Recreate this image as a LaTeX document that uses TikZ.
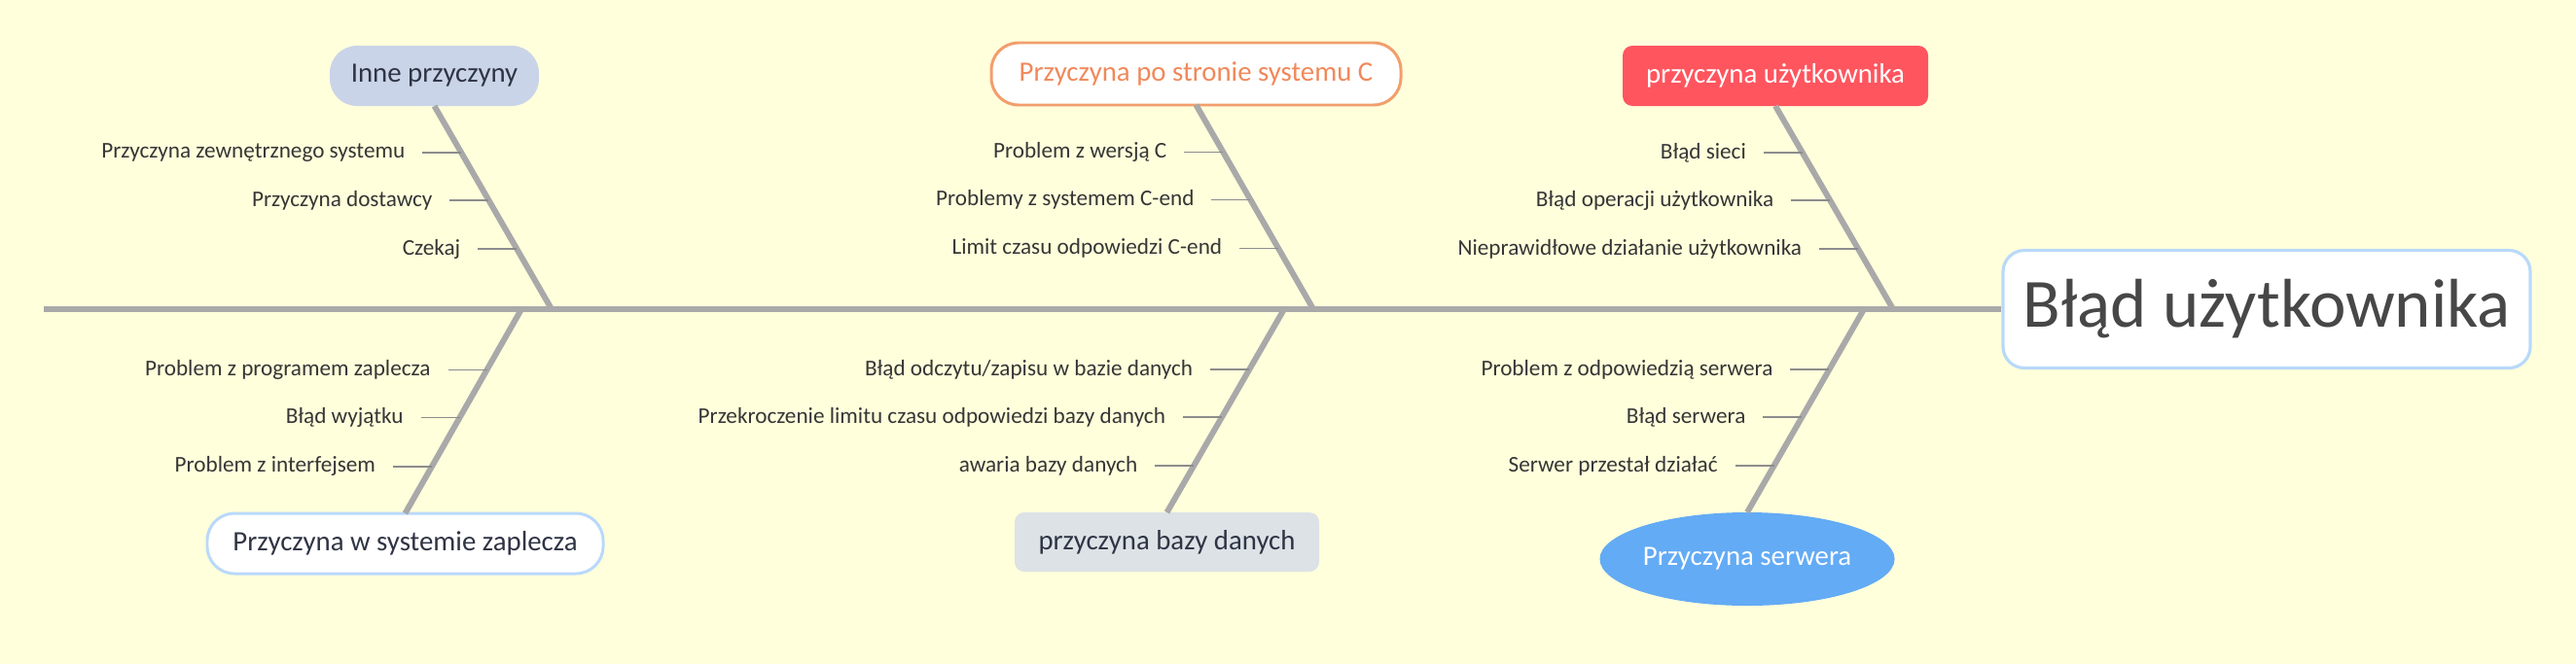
\documentclass[tikz,border=0pt]{standalone}
\usepackage{fontspec}
\setmainfont{Carlito}
\usetikzlibrary{positioning,calc,shapes.geometric}
\definecolor{bgyellow}{HTML}{FFFFDC}
\definecolor{bonegray}{HTML}{A9A9A9}
\definecolor{tickgray}{HTML}{8C8C8C}
\definecolor{labelgray}{HTML}{363636}
\definecolor{darktext}{HTML}{2F3444}
\definecolor{paleblue}{HTML}{B9D9FA}
\definecolor{innefill}{HTML}{C9D4E8}
\definecolor{corange}{HTML}{F29E6C}
\definecolor{ctext}{HTML}{F0895A}
\definecolor{userred}{HTML}{FF555E}
\definecolor{dbgray}{HTML}{DCE2E6}
\definecolor{serverblue}{HTML}{63ABF5}
\tikzset{
  bone/.style={line width=1.7pt,draw=bonegray},
  tick/.style={line width=0.45pt,draw=tickgray},
  lbl/.style={anchor=east,inner sep=0pt,outer xsep=0.18cm,outer ysep=0pt,
    text=labelgray,font=\fontsize{6.6}{7.5}\selectfont},
  cause/.style={inner sep=0pt,outer sep=0pt,font=\fontsize{8.2}{9}\selectfont},
  pill/.style={cause,rectangle,rounded corners=0.28cm},
  tab/.style={cause,rectangle,rounded corners=0.1cm}
}
\begin{document}
\begin{tikzpicture}
  \useasboundingbox (0,0) rectangle (26.48,6.83);
  \fill[bgyellow] (0,0) rectangle (26.48,6.83);

  % head of the fish
  \node[rectangle,rounded corners=0.22cm,draw=paleblue,line width=0.9pt,fill=white,
    minimum width=5.42cm,minimum height=1.21cm,inner sep=0pt,text=black!72,
    font=\fontsize{20.2}{24}\selectfont] (effect) at (23.30,3.65) {Błąd użytkownika};
  \coordinate (tail) at (0.45,3.65);
  \draw[bone] (tail) -- (effect.west);

  % causes above the spine
  \node[pill,fill=innefill,text=darktext,minimum width=2.15cm,minimum height=0.62cm]
    (inne) at (4.465,6.05) {Inne przyczyny};
  \node[pill,fill=white,draw=corange,line width=0.85pt,text=ctext,
    minimum width=4.21cm,minimum height=0.64cm] (sysc) at (12.295,6.07) {Przyczyna po stronie systemu C};
  \node[tab,fill=userred,text=white,minimum width=3.14cm,minimum height=0.62cm]
    (user) at (18.25,6.05) {przyczyna użytkownika};

  % causes below the spine
  \node[pill,fill=white,draw=paleblue,line width=0.85pt,text=darktext,
    minimum width=4.07cm,minimum height=0.62cm] (backend) at (4.165,1.24) {Przyczyna w systemie zaplecza};
  \node[tab,fill=dbgray,text=darktext,minimum width=3.13cm,minimum height=0.61cm]
    (db) at (11.995,1.255) {przyczyna bazy danych};
  \node[cause,ellipse,fill=serverblue,text=white,minimum width=2.90cm,minimum height=0.96cm]
    (server) at (17.96,1.08) {Przyczyna serwera};

  % where the bones meet the spine
  \coordinate (sa) at (5.67,3.65);
  \coordinate (sb) at (13.50,3.65);
  \coordinate (sc) at (19.46,3.65);
  \coordinate (sd) at (5.36,3.65);
  \coordinate (se) at (13.20,3.65);
  \coordinate (sf) at (19.16,3.65);

  \draw[bone] (inne.south) -- (sa);
  \draw[bone] (sysc.south) -- (sb);
  \draw[bone] (user.south) -- (sc);
  \draw[bone] (backend.north) -- (sd);
  \draw[bone] (db.north) -- (se);
  \draw[bone] (server.north) -- (sf);

  % Inne przyczyny
  \coordinate (a1) at ($(inne.south)!0.23!(sa)$);
  \coordinate (a2) at ($(inne.south)!0.464!(sa)$);
  \coordinate (a3) at ($(inne.south)!0.703!(sa)$);
  \node[lbl] (a1l) at ([xshift=-0.4cm]a1) {Przyczyna zewnętrznego systemu};
  \node[lbl] (a2l) at ([xshift=-0.4cm]a2) {Przyczyna dostawcy};
  \node[lbl] (a3l) at ([xshift=-0.4cm]a3) {Czekaj};
  \draw[tick] (a1) -- (a1l);
  \draw[tick] (a2) -- (a2l);
  \draw[tick] (a3) -- (a3l);

  % system C
  \coordinate (b1) at ($(sysc.south)!0.23!(sb)$);
  \coordinate (b2) at ($(sysc.south)!0.464!(sb)$);
  \coordinate (b3) at ($(sysc.south)!0.703!(sb)$);
  \node[lbl] (b1l) at ([xshift=-0.4cm]b1) {Problem z wersją C};
  \node[lbl] (b2l) at ([xshift=-0.4cm]b2) {Problemy z systemem C-end};
  \node[lbl] (b3l) at ([xshift=-0.4cm]b3) {Limit czasu odpowiedzi C-end};
  \draw[tick] (b1) -- (b1l);
  \draw[tick] (b2) -- (b2l);
  \draw[tick] (b3) -- (b3l);

  % user
  \coordinate (c1) at ($(user.south)!0.23!(sc)$);
  \coordinate (c2) at ($(user.south)!0.464!(sc)$);
  \coordinate (c3) at ($(user.south)!0.703!(sc)$);
  \node[lbl] (c1l) at ([xshift=-0.4cm]c1) {Błąd sieci};
  \node[lbl] (c2l) at ([xshift=-0.4cm]c2) {Błąd operacji użytkownika};
  \node[lbl] (c3l) at ([xshift=-0.4cm]c3) {Nieprawidłowe działanie użytkownika};
  \draw[tick] (c1) -- (c1l);
  \draw[tick] (c2) -- (c2l);
  \draw[tick] (c3) -- (c3l);

  % backend
  \coordinate (d1) at ($(sd)!0.297!(backend.north)$);
  \coordinate (d2) at ($(sd)!0.531!(backend.north)$);
  \coordinate (d3) at ($(sd)!0.770!(backend.north)$);
  \node[lbl] (d1l) at ([xshift=-0.4cm]d1) {Problem z programem zaplecza};
  \node[lbl] (d2l) at ([xshift=-0.4cm]d2) {Błąd wyjątku};
  \node[lbl] (d3l) at ([xshift=-0.4cm]d3) {Problem z interfejsem};
  \draw[tick] (d1) -- (d1l);
  \draw[tick] (d2) -- (d2l);
  \draw[tick] (d3) -- (d3l);

  % database
  \coordinate (e1) at ($(se)!0.297!(db.north)$);
  \coordinate (e2) at ($(se)!0.531!(db.north)$);
  \coordinate (e3) at ($(se)!0.770!(db.north)$);
  \node[lbl] (e1l) at ([xshift=-0.4cm]e1) {Błąd odczytu/zapisu w bazie danych};
  \node[lbl] (e2l) at ([xshift=-0.4cm]e2) {Przekroczenie limitu czasu odpowiedzi bazy danych};
  \node[lbl] (e3l) at ([xshift=-0.4cm]e3) {awaria bazy danych};
  \draw[tick] (e1) -- (e1l);
  \draw[tick] (e2) -- (e2l);
  \draw[tick] (e3) -- (e3l);

  % server
  \coordinate (f1) at ($(sf)!0.297!(server.north)$);
  \coordinate (f2) at ($(sf)!0.531!(server.north)$);
  \coordinate (f3) at ($(sf)!0.770!(server.north)$);
  \node[lbl] (f1l) at ([xshift=-0.4cm]f1) {Problem z odpowiedzią serwera};
  \node[lbl] (f2l) at ([xshift=-0.4cm]f2) {Błąd serwera};
  \node[lbl] (f3l) at ([xshift=-0.4cm]f3) {Serwer przestał działać};
  \draw[tick] (f1) -- (f1l);
  \draw[tick] (f2) -- (f2l);
  \draw[tick] (f3) -- (f3l);
\end{tikzpicture}
\end{document}
